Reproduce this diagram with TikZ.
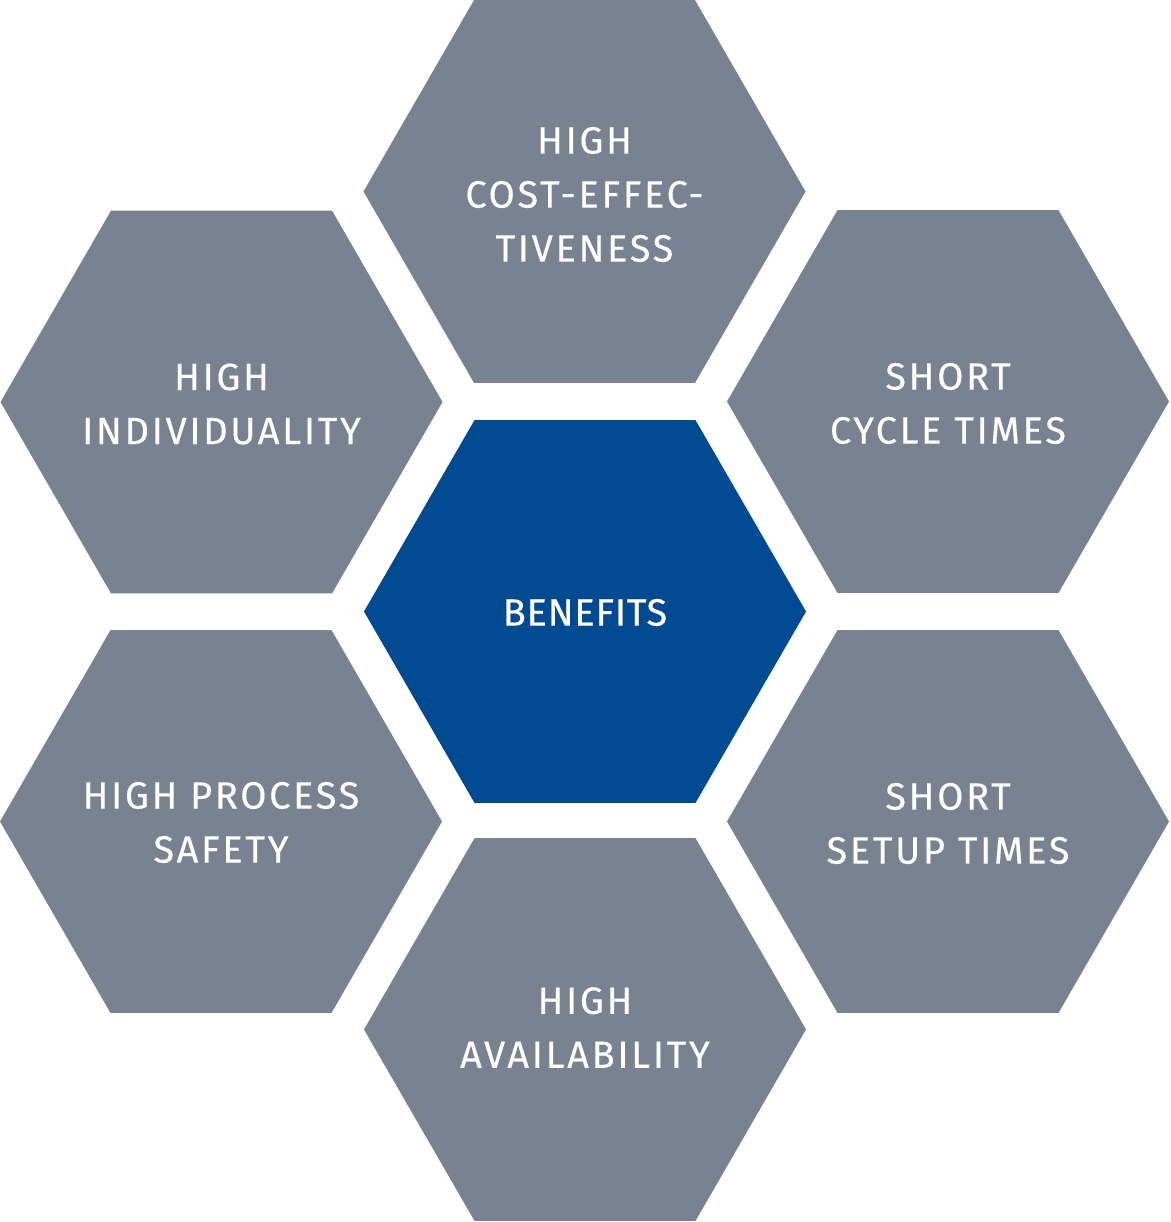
\documentclass[tikz,border=0pt]{standalone}
\usepackage{fontspec}
\usetikzlibrary{shapes.geometric}
\newfontfamily\hexfont[LetterSpace=7,FakeBold=0.3]{Fira Sans}
\newfontfamily\hexfontc[LetterSpace=2,FakeBold=0.5]{Fira Sans}
\definecolor{hexgray}{HTML}{788291}
\definecolor{hexblue}{HTML}{004A91}
\begin{document}
\begin{tikzpicture}[x=1pt,y=-1pt,
  hexa/.style={regular polygon, regular polygon sides=6, minimum size=442pt,
    inner sep=0pt, outer sep=0pt, fill=hexgray, text=white, align=center,
    font=\hexfont\fontsize{38}{54}\selectfont},
  hexc/.style={hexa, fill=hexblue, font=\hexfontc\fontsize{38}{54}\selectfont},
  hextext/.style={text=white, align=center, inner sep=0pt,
    font=\hexfont\fontsize{38}{54}\selectfont}]
\useasboundingbox (0,0) rectangle (1170,1222);
\node[hexa] (top) at (584.5,191.5) {};
\node[hexa] (tl) at (221.5,402) {};
\node[hexa] (tr) at (948,401.5) {};
\node[hexc] (center) at (585,611.5) {};
\node[hexa] (bl) at (221,821.5) {};
\node[hexa] (br) at (948,821.5) {};
\node[hexa] (bottom) at (585,1029.5) {};
\node[hextext] (ttop) at ([yshift=-3pt]top.center) {HIGH\\COST-EFFEC-\\TIVENESS};
\node[hextext] (ttl) at ([yshift=-2pt]tl.center) {HIGH\\INDIVIDUALITY};
\node[hextext] (ttr) at ([yshift=-2pt]tr.center) {SHORT\\CYCLE TIMES};
\node[hextext, font=\hexfontc\fontsize{38}{54}\selectfont] (tc) at ([yshift=-1pt]center.center) {BENEFITS};
\node[hextext] (tbl) at ([yshift=-1pt]bl.center) {HIGH PROCESS\\SAFETY};
\node[hextext] (tbr) at ([yshift=-2pt]br.center) {SHORT\\SETUP TIMES};
\node[hextext] (tbot) at ([yshift=2pt]bottom.center) {HIGH\\AVAILABILITY};
\end{tikzpicture}
\end{document}
